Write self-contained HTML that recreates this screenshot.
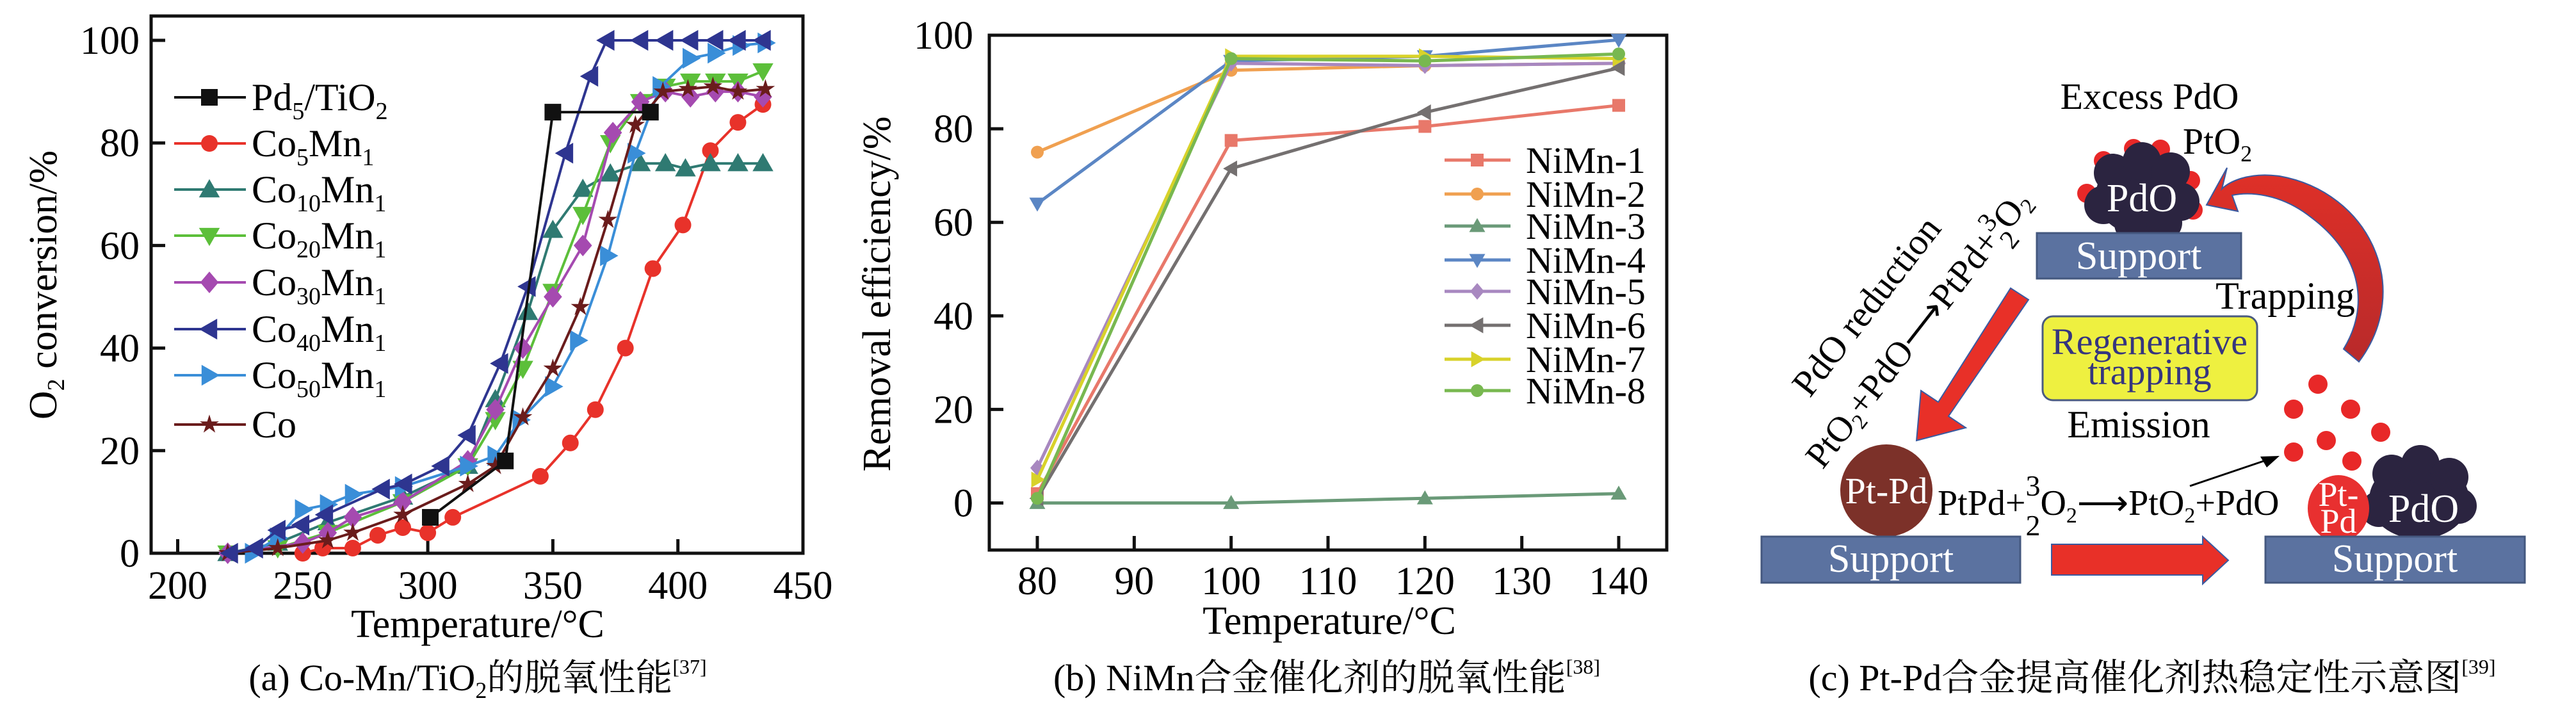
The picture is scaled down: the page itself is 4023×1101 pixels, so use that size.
<!DOCTYPE html>
<html><head><meta charset="utf-8">
<style>
html,body{margin:0;padding:0;background:#fff;}
svg{display:block;}
svg text{font-family:"Liberation Serif","Noto Serif CJK SC",serif;}
</style></head>
<body>
<svg id="fig" width="4023" height="1101" viewBox="0 0 4023 1101" xmlns="http://www.w3.org/2000/svg" font-family="Liberation Serif, Noto Serif CJK SC, serif">
<rect width="4023" height="1101" fill="#fff"/>
<g id="pa"></g>
<g id="pb"></g>

<text x="746" y="995" font-size="62" text-anchor="middle">Temperature/°C</text>
<text transform="translate(88,445) rotate(-90)" font-size="62" text-anchor="middle">O<tspan font-size="38" dy="12">2</tspan><tspan dy="-12"> conversion/%</tspan></text>
<text x="746" y="1078" font-size="58" text-anchor="middle">(a) Co-Mn/TiO<tspan font-size="36" dy="12">2</tspan><tspan dy="-12">的脱氧性能</tspan><tspan font-size="32" dy="-26">[37]</tspan></text>

<text x="2076" y="990" font-size="62" text-anchor="middle">Temperature/°C</text>
<text transform="translate(1390,459) rotate(-90)" font-size="62" text-anchor="middle">Removal efficiency/%</text>
<text x="2072" y="1078" font-size="58" text-anchor="middle">(b) NiMn合金催化剂的脱氧性能<tspan font-size="32" dy="-26">[38]</tspan></text>

<g id="pc">
  <defs>
    <linearGradient id="curveGrad" x1="0" y1="1" x2="0" y2="0">
      <stop offset="0" stop-color="#b82a2a"/><stop offset="1" stop-color="#e03028"/>
    </linearGradient>
  </defs>
  <text x="3357" y="170" font-size="58" text-anchor="middle">Excess PdO</text>
  <text x="3463" y="240" font-size="58" text-anchor="middle">PtO<tspan font-size="36" dy="12">2</tspan></text>
  <g fill="#e82828">
    <circle cx="3285" cy="251" r="15"/><circle cx="3332" cy="232" r="15"/><circle cx="3374" cy="233" r="15"/>
    <circle cx="3421" cy="282" r="15"/><circle cx="3425" cy="328" r="15"/><circle cx="3259" cy="302" r="15"/>
  </g>
  <g fill="#2b2440">
    <ellipse cx="3345" cy="305" rx="72" ry="62"/>
    <circle cx="3300" cy="270" r="30"/><circle cx="3345" cy="252" r="30"/><circle cx="3390" cy="268" r="30"/>
    <circle cx="3405" cy="315" r="30"/><circle cx="3285" cy="320" r="30"/><circle cx="3330" cy="350" r="28"/><circle cx="3380" cy="348" r="28"/>
  </g>
  <text x="3345" y="330" font-size="62" fill="#fff" text-anchor="middle">PdO</text>
  <rect x="3181" y="364" width="319" height="71" fill="#5b72a0" stroke="#44587f" stroke-width="3"/>
  <text x="3340" y="420" font-size="62" fill="#fff" text-anchor="middle">Support</text>

  <path d="M3684,565 C3770,450 3700,300 3560,275 C3510,268 3480,285 3470,295 L3478,262 L3446,320 L3495,330 L3486,305 C3510,300 3560,300 3610,340 C3690,400 3700,480 3660,545 Z" fill="url(#curveGrad)" stroke="#3a5aa0" stroke-width="2"/>
  <text x="3569" y="482" font-size="60" text-anchor="middle">Trapping</text>

  <rect x="3190" y="494" width="335" height="131" rx="16" fill="#eef040" stroke="#4a5a80" stroke-width="3"/>
  <text x="3357" y="553" font-size="58" fill="#35357f" text-anchor="middle">Regenerative</text>
  <text x="3357" y="600" font-size="58" fill="#35357f" text-anchor="middle">trapping</text>
  <text x="3340" y="683" font-size="60" text-anchor="middle">Emission</text>

  <polygon points="3140,450 3168,468 3043,650 3070,668 2993,688 3000,610 3027,628" fill="#e83028" stroke="#3a5aa0" stroke-width="2"/>
  <g transform="translate(2930,490) rotate(-52)">
    <text x="0" y="0" font-size="58" text-anchor="middle">PdO reduction</text>
  </g>
  <g transform="translate(3010,525) rotate(-52)">
    <text x="0" y="0" font-size="56" text-anchor="middle">PtO<tspan font-size="34" dy="10">2</tspan><tspan dy="-10">+PdO⟶PtPd+</tspan><tspan font-size="42" dy="-22">3</tspan><tspan font-size="42" dx="-21" dy="44">2</tspan><tspan dy="-22">O</tspan><tspan font-size="34" dy="10">2</tspan></text>
  </g>

  <ellipse cx="2946" cy="766" rx="72" ry="72" fill="#7c3129"/>
  <text x="2946" y="786" font-size="58" fill="#fff" text-anchor="middle">Pt-Pd</text>
  <rect x="2751" y="838" width="404" height="72" fill="#5b72a0" stroke="#44587f" stroke-width="3"/>
  <text x="2953" y="893" font-size="62" fill="#fff" text-anchor="middle">Support</text>

  <text x="3026" y="804" font-size="56">PtPd+<tspan font-size="46" dy="-30">3</tspan><tspan font-size="46" dx="-23" dy="62">2</tspan><tspan dy="-32">O</tspan><tspan font-size="34" dy="12">2</tspan><tspan dy="-12">⟶PtO</tspan><tspan font-size="34" dy="12">2</tspan><tspan dy="-12">+PdO</tspan></text>

  <polygon points="3204,850 3440,850 3440,838 3480,875 3440,912 3440,898 3204,898" fill="#e83028" stroke="#3a5aa0" stroke-width="2"/>

  <g fill="#e82828">
    <circle cx="3620" cy="600" r="15"/><circle cx="3582" cy="639" r="15"/><circle cx="3671" cy="639" r="15"/>
    <circle cx="3718" cy="675" r="15"/><circle cx="3633" cy="688" r="15"/><circle cx="3582" cy="706" r="15"/><circle cx="3673" cy="720" r="15"/>
  </g>
  <line x1="3420" y1="759" x2="3550" y2="715" stroke="#000" stroke-width="3"/>
  <polygon points="3560,712 3530,713 3540,730" fill="#000"/>

  <g fill="#2b2440">
    <ellipse cx="3778" cy="780" rx="78" ry="62"/>
    <circle cx="3735" cy="740" r="30"/><circle cx="3780" cy="725" r="30"/><circle cx="3825" cy="745" r="30"/>
    <circle cx="3840" cy="790" r="28"/><circle cx="3715" cy="795" r="28"/><circle cx="3780" cy="820" r="26"/>
  </g>
  <text x="3785" y="815" font-size="62" fill="#fff" text-anchor="middle">PdO</text>
  <ellipse cx="3652" cy="794" rx="48" ry="52" fill="#e83030"/>
  <text x="3652" y="790" font-size="54" fill="#fff" text-anchor="middle">Pt-</text>
  <text x="3652" y="832" font-size="54" fill="#fff" text-anchor="middle">Pd</text>
  <rect x="3538" y="838" width="405" height="72" fill="#5b72a0" stroke="#44587f" stroke-width="3"/>
  <text x="3740" y="893" font-size="62" fill="#fff" text-anchor="middle">Support</text>

  <text x="3361" y="1078" font-size="58" text-anchor="middle">(c) Pt-Pd合金提高催化剂热稳定性示意图<tspan font-size="32" dy="-26">[39]</tspan></text>
</g>
</svg>

<script>
// ---------- Panel a data ----------
const aNames = ["Pd5/TiO2","Co5Mn1","Co10Mn1","Co20Mn1","Co30Mn1","Co40Mn1","Co50Mn1","Co"];
const aXTicks = [200,250,300,350,400,450];
const aYTicks = [0,20,40,60,80,100];
const aX_Pd = [301,331,350,389];
const aY_Pd = [7,18,86,86];
const aX_Co5 = [250,258,270,280,290,300,310,345,357,367,379,390,402,413,424,434];
const aY_Co5 = [0,1,1,3.5,5,4,7,15,21.5,28,40,55.5,64,78.5,84,87.5];
const aX_Co10 = [220,240,260,290,316,327,340,350,362,373,385,395,403,413,424,434];
const aY_Co10 = [0,2,6,11,17,30,47,63,71,74,76,76,75,76,76,76];
const aX_Co20 = [220,240,260,290,316,327,338,350,362,373,385,395,405,415,424,434];
const aY_Co20 = [0,1,4,10,17,26,36,51,66,80,88,91,92,92,92,94];
const aX_Co30 = [220,250,260,270,290,316,327,338,350,362,374,385,395,405,415,424,434];
const aY_Co30 = [0,2,4,7,10,18,28,40,50,60,82,88,90,89,90,90,89];
const aX_Co40 = [221,231,240,249.5,259,281.7,290.6,305.5,316,329,340,355,365,371.5,385,395,405,415,424,434];
const aY_Co40 = [0,1,4.5,5.5,7.5,12.5,13.5,17,23,37,52,78,93,100,100,100,100,100,100,100];
const aX_Co50 = [230,240,250,260,270,290,316,327,337,350,360,372,383,393,405,415,425,435];
const aY_Co50 = [0,3,8.5,9.5,11.5,13,17,19,26,32.5,41.5,58,78,91,96.5,97.5,99,99.5];
const aX_Co = [220,240,260,270,290,316,327,338,350,361,372,383,394,404,414,424,435];
const aY_Co = [0,1,2.5,4,7.5,13.5,17,26.5,36,48,65,83.5,90,90.5,91,90,90.5];

// ---------- Panel b data ----------
const bNames = ["NiMn-1","NiMn-2","NiMn-3","NiMn-4","NiMn-5","NiMn-6","NiMn-7","NiMn-8"];
const bTemps = [80,100,120,140];
const bXTicks = [80,90,100,110,120,130,140];
const bYTicks = [0,20,40,60,80,100];
const b1 = [2,77.5,80.5,85];
const b2 = [75,92.5,93.5,94];
const b3 = [0,0,1,2];
const b4 = [64,94.5,95.5,99];
const b5 = [7.5,94,93.5,94];
const b6 = [1,71.5,83.5,93];
const b7 = [5,95.5,95.5,95];
const b8 = [1,95,94.5,96];

const NS = "http://www.w3.org/2000/svg";
function mk(tag, attrs, parent){
  const e = document.createElementNS(NS, tag);
  for (const k in attrs) e.setAttribute(k, attrs[k]);
  parent.appendChild(e);
  return e;
}
function marker(g, type, cx, cy, r, color){
  let el;
  if (type==="square") el = mk("rect",{x:cx-r,y:cy-r,width:2*r,height:2*r,fill:color},g);
  else if (type==="circle") el = mk("circle",{cx:cx,cy:cy,r:r,fill:color},g);
  else if (type==="diamond") el = mk("polygon",{points:`${cx},${cy-r*1.3} ${cx+r*1.1},${cy} ${cx},${cy+r*1.3} ${cx-r*1.1},${cy}`,fill:color},g);
  else if (type==="star"){
    let p=[];for(let i=0;i<10;i++){const a=-Math.PI/2+i*Math.PI/5;const rr=i%2?r*0.45:r*1.2;p.push((cx+rr*Math.cos(a))+","+(cy+rr*Math.sin(a)));}
    el = mk("polygon",{points:p.join(" "),fill:color},g);
  } else {
    const R=r*1.25; let pts;
    if (type==="up") pts=[[cx,cy-R],[cx+R,cy+R*0.75],[cx-R,cy+R*0.75]];
    else if (type==="down") pts=[[cx,cy+R],[cx+R,cy-R*0.75],[cx-R,cy-R*0.75]];
    else if (type==="left") pts=[[cx-R,cy],[cx+R*0.75,cy-R],[cx+R*0.75,cy+R]];
    else pts=[[cx+R,cy],[cx-R*0.75,cy-R],[cx-R*0.75,cy+R]];
    el = mk("polygon",{points:pts.map(p=>p.join(",")).join(" "),fill:color},g);
  }
  
  
  return el;
}

// ---------- Panel a draw ----------
(function(){
  const g = document.getElementById("pa");
  const L=236,R=1254,T=25,B=864;
  const xS = v => 277.5 + (v-200)*(1254-277.5)/250;
  const yS = v => 864 - v*(864-63)/100;
  const frame = mk("rect",{x:L,y:T,width:R-L,height:B-T,fill:"none",stroke:"#111","stroke-width":5},g);
  
  
  aXTicks.forEach(t=>{
    const ln = mk("line",{x1:xS(t),x2:xS(t),y1:B,y2:B-22,stroke:"#111","stroke-width":5},g);
    
    
    const tx = mk("text",{x:xS(t),y:935,"font-size":62,"text-anchor":"middle"},g);
    tx.textContent=t;
    
    
  });
  aYTicks.forEach(t=>{
    const ln = mk("line",{x1:L,x2:L+22,y1:yS(t),y2:yS(t),stroke:"#111","stroke-width":5},g);
    
    
    const tx = mk("text",{x:218,y:yS(t)+21,"font-size":62,"text-anchor":"end"},g);
    tx.textContent=t;
    
    
  });
  const series = [
    [aX_Co5,aY_Co5,"#e8322a","circle"],
    [aX_Co10,aY_Co10,"#2f7a72","up"],
    [aX_Co20,aY_Co20,"#5cbf3a","down"],
    [aX_Co30,aY_Co30,"#a54ab0","diamond"],
    [aX_Co50,aY_Co50,"#3a8ed8","right"],
    [aX_Co,aY_Co,"#6a1c1c","star"],
    [aX_Co40,aY_Co40,"#2e3590","left"],
    [aX_Pd,aY_Pd,"#111111","square"]
  ];
  series.forEach(s=>{
    const sg = mk("g",{},g);
    
    
    const pts = s[0].map((x,i)=>xS(x)+","+yS(s[1][i])).join(" ");
    const pl = mk("polyline",{points:pts,fill:"none",stroke:s[2],"stroke-width":4},sg);
    
    
    s[0].forEach((x,i)=>marker(sg,s[3],xS(x),yS(s[1][i]),13,s[2]));
  });
  const lg = mk("g",{},g);
  
  
  const legColors=["#111111","#e8322a","#2f7a72","#5cbf3a","#a54ab0","#2e3590","#3a8ed8","#6a1c1c"];
  const legTypes=["square","circle","up","down","diamond","left","right","star"];
  const legSub=[["Pd","5","/TiO","2"],["Co","5","Mn","1"],["Co","10","Mn","1"],["Co","20","Mn","1"],["Co","30","Mn","1"],["Co","40","Mn","1"],["Co","50","Mn","1"],["Co"]];
  const rows=[152,224,296,368,441,514,586,663];
  aNames.forEach((n,i)=>{
    const eg = mk("g",{},lg);
    
    
    const y=rows[i];
    mk("line",{x1:272,x2:384,y1:y,y2:y,stroke:legColors[i],"stroke-width":4},eg);
    marker(eg,legTypes[i],327,y,13,legColors[i]);
    const tx = mk("text",{x:393,y:y+20,"font-size":60},eg);
    const p=legSub[i];
    p.forEach((part,k)=>{
      const ts = mk("tspan",{},tx);
      if (k%2===1){ts.setAttribute("font-size","38");ts.setAttribute("dy","14");}
      else if (k>0){ts.setAttribute("dy","-14");}
      ts.textContent=part;
    });
  });
})();

// ---------- Panel b draw ----------
(function(){
  const g = document.getElementById("pb");
  const L=1545,R=2603,T=55,B=859;
  const xS = v => 1620 + (v-80)*(2528-1620)/60;
  const yS = v => 785.5 - v*(785.5-55)/100;
  const frame = mk("path",{d:`M${L},${T} H${R} V${B} H${L} Z`,fill:"none",stroke:"#111","stroke-width":5},g);
  
  
  bXTicks.forEach(t=>{
    const ln = mk("line",{x1:xS(t),x2:xS(t),y1:B,y2:B-22,stroke:"#111","stroke-width":5},g);
    
    
    const tx = mk("text",{x:xS(t),y:928,"font-size":62,"text-anchor":"middle"},g);
    tx.textContent=t;
    
    
  });
  bYTicks.forEach(t=>{
    const ln = mk("line",{x1:L,x2:L+22,y1:yS(t),y2:yS(t),stroke:"#111","stroke-width":5},g);
    
    
    const tx = mk("text",{x:1520,y:yS(t)+21,"font-size":62,"text-anchor":"end"},g);
    tx.textContent=t;
    
    
  });
  const vals=[b1,b2,b3,b4,b5,b6,b7,b8];
  const cols=["#e8786a","#f0a050","#6a9a78","#5b86c4","#a888c0","#747070","#d8d22a","#78b850"];
  const types=["square","circle","up","down","diamond","left","right","circle"];
  vals.forEach((v,i)=>{
    const sg = mk("g",{},g);
    
    
    const pts = bTemps.map((x,k)=>xS(x)+","+yS(v[k])).join(" ");
    const pl = mk("polyline",{points:pts,fill:"none",stroke:cols[i],"stroke-width":5},sg);
    
    
    bTemps.forEach((x,k)=>marker(sg,types[i],xS(x),yS(v[k]),10,cols[i]));
  });
  const lg = mk("g",{},g);
  
  
  const rows=[250,303,353,406,455,508,561,610];
  bNames.forEach((n,i)=>{
    const eg = mk("g",{},lg);
    
    
    const y=rows[i];
    mk("line",{x1:2256,x2:2359,y1:y,y2:y,stroke:cols[i],"stroke-width":5},eg);
    marker(eg,types[i],2307,y,10,cols[i]);
    const tx = mk("text",{x:2383,y:y+20,"font-size":58},eg);
    tx.textContent=n;
  });
})();
</script>
</body></html>
